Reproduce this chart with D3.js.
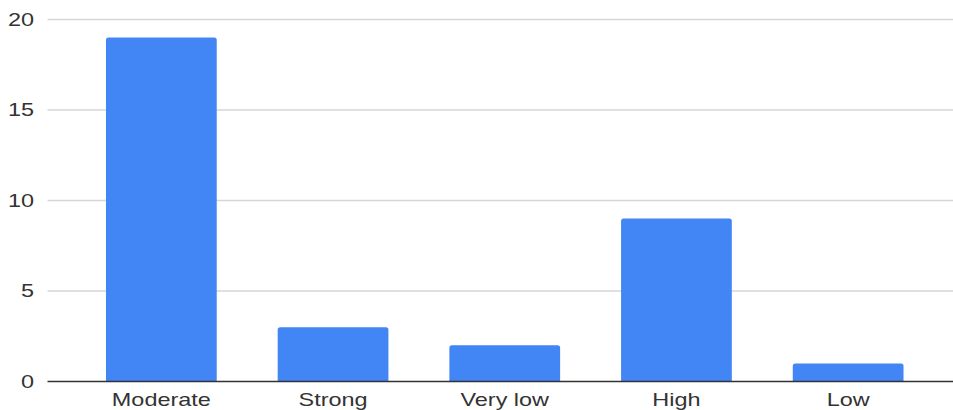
<!DOCTYPE html>
<html>
<head>
<meta charset="utf-8">
<script src="https://cdn.jsdelivr.net/npm/d3@7"></script>
<style>
  html, body { margin: 0; padding: 0; background: #fff; }
  svg { display: block; }
  text { font-family: "Liberation Sans", Arial, sans-serif; }
</style>
</head>
<body>
<svg id="chart" width="953" height="410"></svg>
<script>
// Counts per category
const categories = ["Moderate", "Strong", "Very low", "High", "Low"];
const counts = [19, 3, 2, 9, 1];
const yTicks = [0, 5, 10, 15, 20];

const svg = d3.select("#chart");
const plotLeft = 47.5, plotRight = 953;
const yTop = 19.5, yBottom = 381.5;
const fontSize = 17.5;
const stretch = 1.34; // wide lettering

const x = d3.scaleBand()
  .domain(categories)
  .range([75.5, 934])
  .paddingInner(0.355)
  .paddingOuter(0.1775);

const y = d3.scaleLinear()
  .domain([0, 20])
  .range([yBottom, yTop]);

// Horizontal gridlines
svg.append("g")
  .selectAll("line")
  .data(yTicks.filter(d => d !== 0))
  .join("line")
  .attr("x1", plotLeft)
  .attr("x2", plotRight)
  .attr("y1", d => y(d))
  .attr("y2", d => y(d))
  .attr("stroke", "#d6d6d6")
  .attr("stroke-width", 1.3);

// Y axis tick labels
svg.append("g")
  .selectAll("text")
  .data(yTicks)
  .join("text")
  .attr("transform", d => `translate(34,${y(d)}) scale(${stretch},1)`)
  .attr("dy", "0.36em")
  .attr("text-anchor", "end")
  .attr("font-size", fontSize)
  .attr("fill", "#333")
  .text(d => d);

// Bars with slightly rounded top corners
const r = 2.5;
svg.append("g")
  .selectAll("path")
  .data(categories.map((c, i) => ({ c, v: counts[i] })))
  .join("path")
  .attr("fill", "#4285f4")
  .attr("d", d => {
    const x0 = x(d.c), x1 = x0 + x.bandwidth();
    const yt = y(d.v), yb = y(0);
    return `M${x0},${yb}V${yt + r}Q${x0},${yt} ${x0 + r},${yt}H${x1 - r}Q${x1},${yt} ${x1},${yt + r}V${yb}Z`;
  });

// Baseline
svg.append("line")
  .attr("x1", plotLeft)
  .attr("x2", plotRight)
  .attr("y1", y(0))
  .attr("y2", y(0))
  .attr("stroke", "#333")
  .attr("stroke-width", 1.3);

// Category labels
svg.append("g")
  .selectAll("text")
  .data(categories)
  .join("text")
  .attr("transform", d => `translate(${x(d) + x.bandwidth() / 2},406) scale(${stretch},1)`)
  .attr("text-anchor", "middle")
  .attr("font-size", fontSize)
  .attr("fill", "#333")
  .text(d => d);
</script>
</body>
</html>
